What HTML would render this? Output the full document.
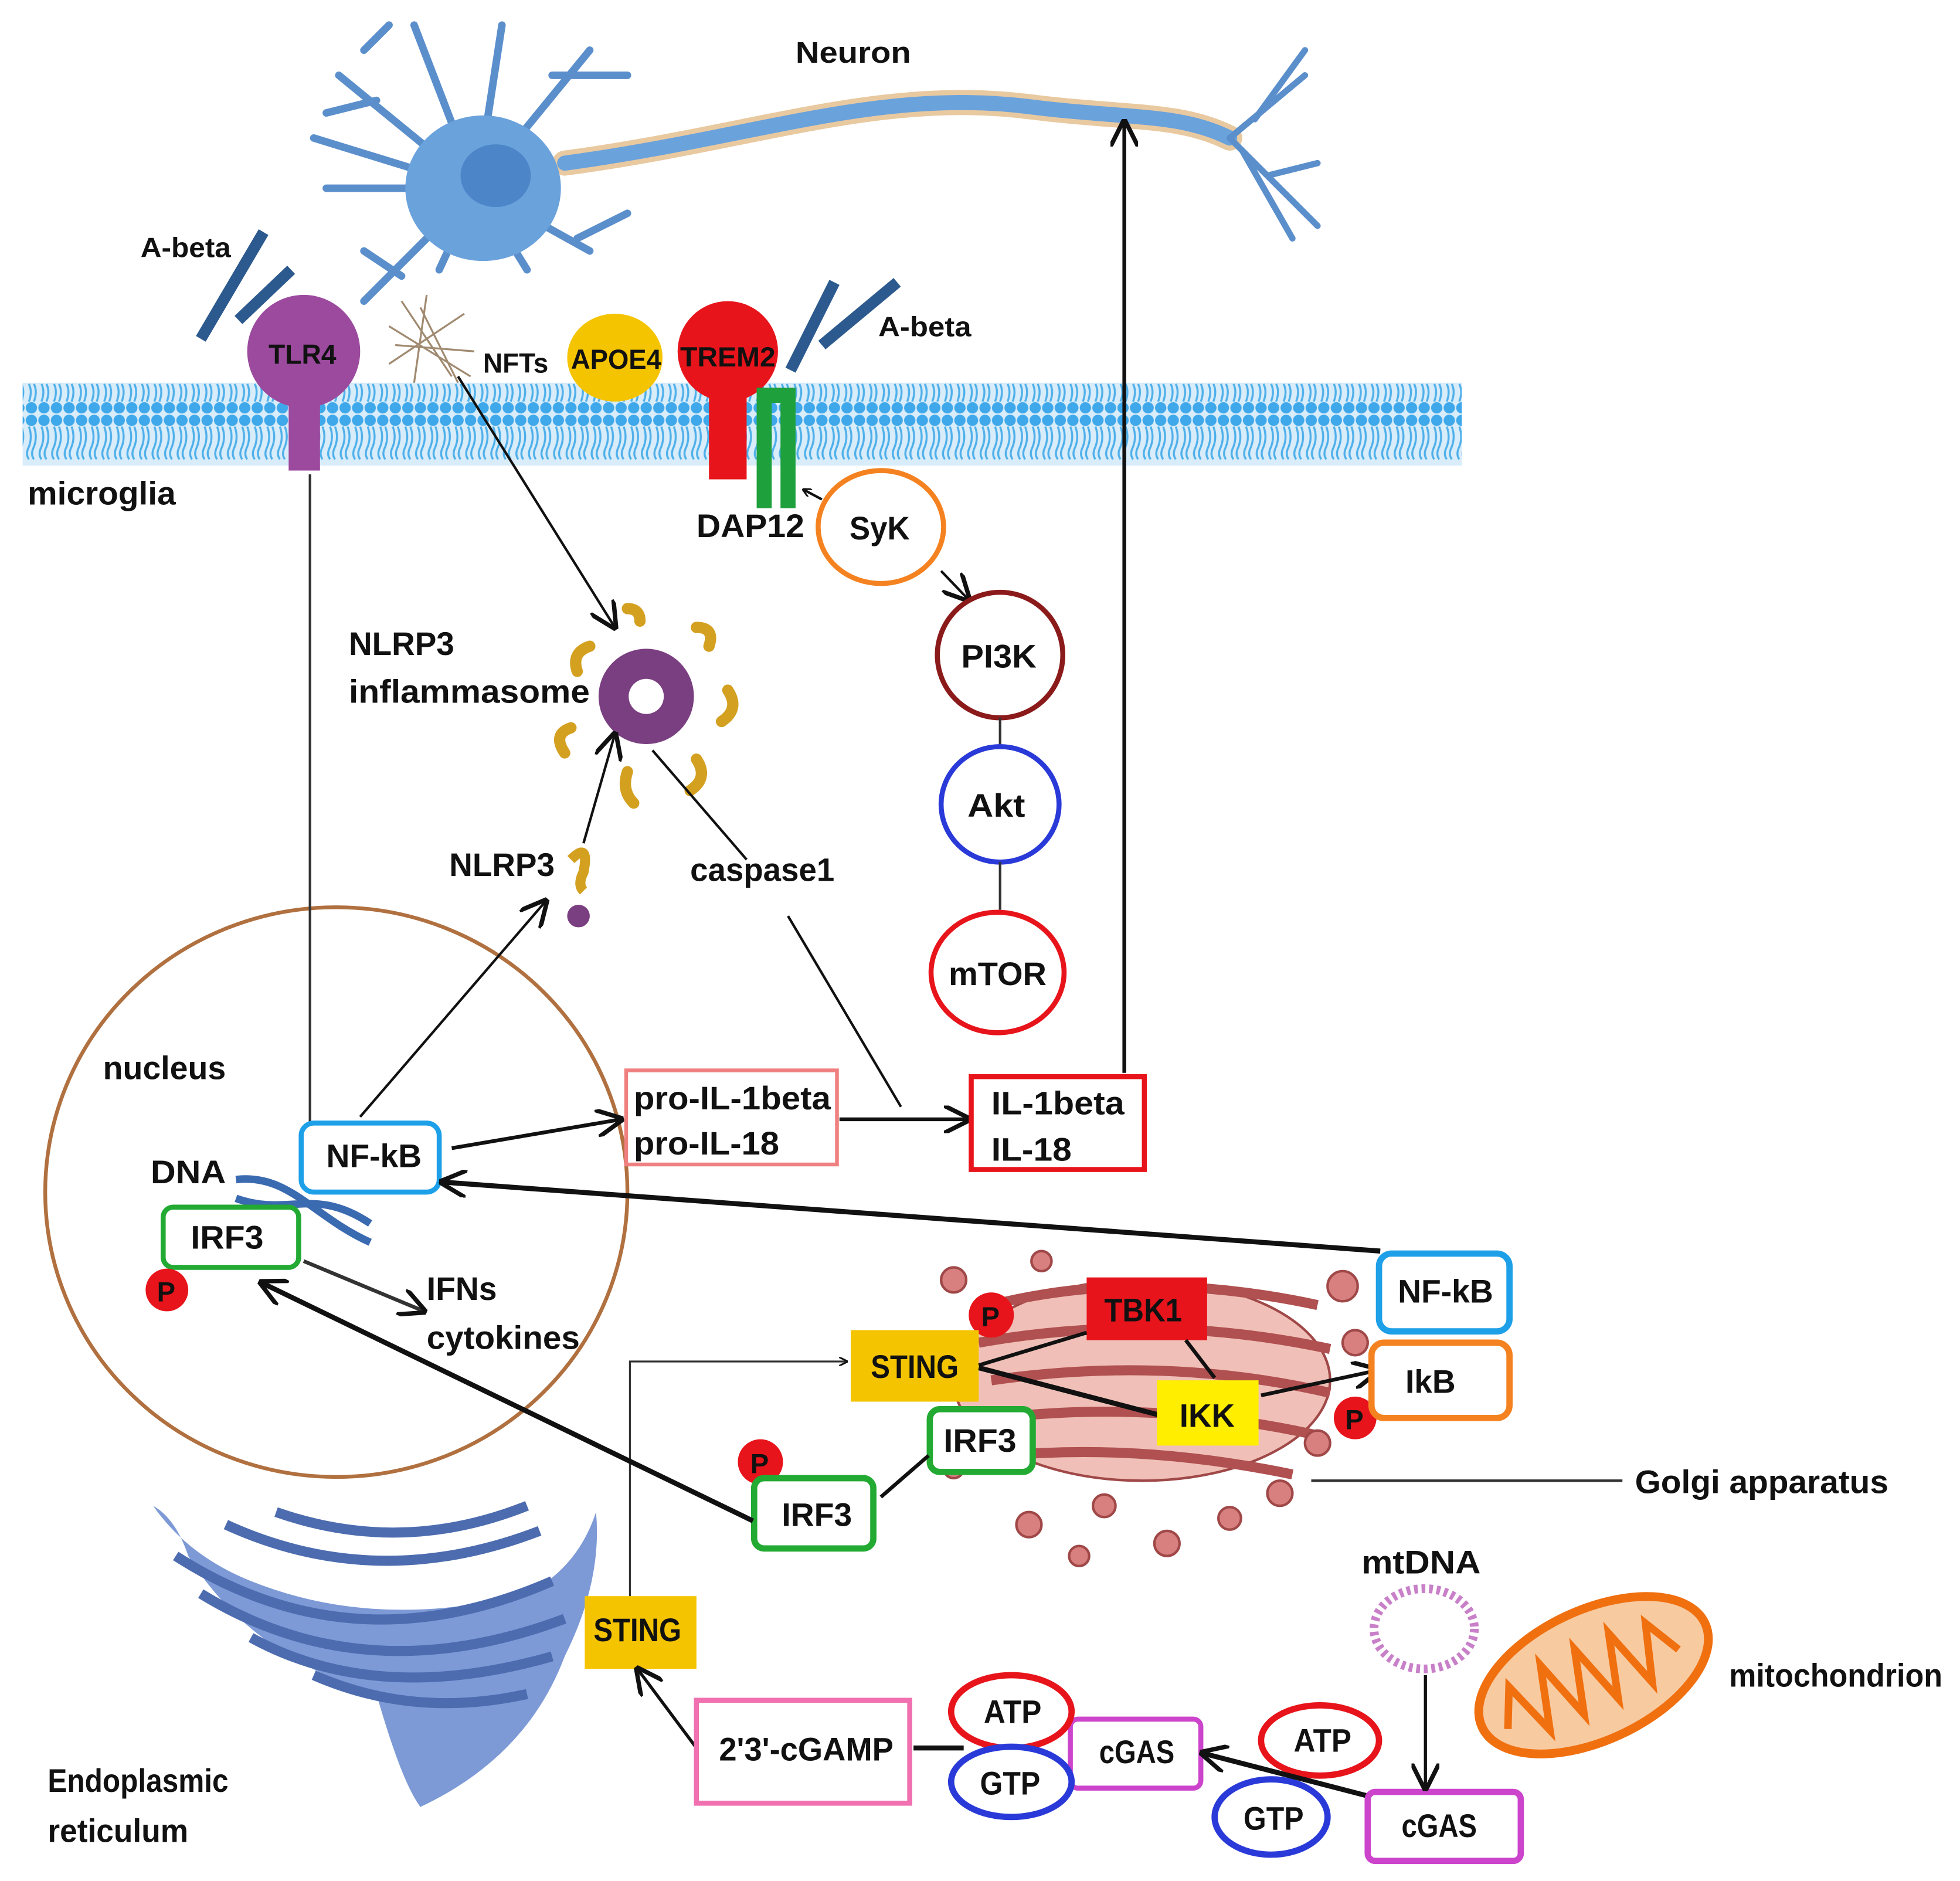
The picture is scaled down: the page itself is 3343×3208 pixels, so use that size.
<!DOCTYPE html>
<html><head><meta charset="utf-8"><style>
html,body{margin:0;padding:0;background:#fff;}
svg{display:block}
text{font-family:"Liberation Sans Narrow","Liberation Sans",sans-serif;font-weight:bold;fill:#111;}
</style></head><body>
<svg width="3343" height="3208" viewBox="0 0 1562 1499" xmlns="http://www.w3.org/2000/svg">
<defs>
<marker id="ah" viewBox="0 0 10 10" refX="9" refY="5" markerWidth="7" markerHeight="7" orient="auto" markerUnits="userSpaceOnUse"><path d="M0,0 L10,5 L0,10" fill="none" stroke="#111" stroke-width="2"/></marker>
<marker id="ahb" viewBox="0 0 10 10" refX="9" refY="5" markerWidth="22" markerHeight="22" orient="auto" markerUnits="userSpaceOnUse"><path d="M0,0 L10,5 L0,10" fill="none" stroke="#111" stroke-width="1.6"/></marker>
<pattern id="mem" width="10" height="66" patternUnits="userSpaceOnUse">
<rect width="10" height="66" fill="#d8ecfa"/>
<circle cx="5" cy="5" r="4.5" fill="#3fa8ea"/><circle cx="5" cy="61" r="4.5" fill="#3fa8ea"/>
<path d="M3,10 q3,8 0,16 q-3,6 0,10 M7,10 q3,8 0,16 q-3,6 0,10 M3,56 q3,-8 0,-14 M7,56 q3,-8 0,-14" stroke="#4fb0ea" stroke-width="1.6" fill="none"/>
</pattern>
</defs>

<!-- Neuron -->
<g stroke="#5b8fcc" fill="none" stroke-linecap="round">
<path d="M450,130 C600,110 700,70 820,85 C900,95 940,90 980,110" stroke="#e8c9a0" stroke-width="20"/>
<path d="M450,130 C600,110 700,70 820,85 C900,95 940,90 980,110" stroke="#6aa2dc" stroke-width="12"/>
<path d="M980,110 L1040,60 M980,110 L1050,180 M1000,95 L1040,40 M1010,140 L1050,130 M990,120 L1030,190" stroke-width="5"/>
<path d="M380,150 L270,60 M380,150 L260,150 M380,150 L290,240 M380,150 L350,215 M380,150 L420,215 M380,150 L470,200 M380,150 L470,40 M380,150 L400,20 M380,150 L330,20 M380,150 L250,110 M300,80 L260,90 M320,220 L290,200 M440,60 L500,60 M460,190 L500,170 M290,40 L310,20" stroke-width="6"/>
</g>
<ellipse cx="385" cy="150" rx="62" ry="58" fill="#6aa2dc"/>
<ellipse cx="395" cy="140" rx="28" ry="25" fill="#4d86c8"/>
<text x="634" y="50" font-size="24" textLength="92" lengthAdjust="spacingAndGlyphs">Neuron</text>

<rect x="18" y="305" width="1147" height="66" fill="url(#mem)"/>

<path d="M210,185 L160,270 M232,215 L190,255" stroke="#2d5a8e" stroke-width="9"/>
<text x="112" y="205" font-size="22" textLength="72" lengthAdjust="spacingAndGlyphs">A-beta</text>
<rect x="230" y="300" width="25" height="75" fill="#9b4a9e"/>
<circle cx="242" cy="280" r="45" fill="#9b4a9e"/>
<text x="214" y="290" font-size="22" textLength="54" lengthAdjust="spacingAndGlyphs">TLR4</text>
<g stroke="#a08a70" stroke-width="1.5" fill="none"><path d="M310,260 L375,300 M320,240 L360,300 M340,235 L330,305 M310,290 L370,250 M315,275 L378,280 M335,245 L365,305"/></g>
<text x="385" y="297" font-size="22" textLength="52" lengthAdjust="spacingAndGlyphs">NFTs</text>
<ellipse cx="490" cy="285" rx="38" ry="35" fill="#f5c400"/>
<text x="455" y="294" font-size="22" textLength="72" lengthAdjust="spacingAndGlyphs">APOE4</text>
<rect x="565" y="300" width="30" height="82" fill="#e8141b"/>
<circle cx="580" cy="280" r="40" fill="#e8141b"/>
<text x="542" y="292" font-size="22" textLength="76" lengthAdjust="spacingAndGlyphs">TREM2</text>
<path d="M609,405 V315 H628 V405" stroke="#1ea03c" stroke-width="12" fill="none"/>
<path d="M665,225 L630,295 M715,225 L655,275" stroke="#2d5a8e" stroke-width="9"/>
<text x="700" y="268" font-size="22" textLength="74" lengthAdjust="spacingAndGlyphs">A-beta</text>
<text x="22" y="402" font-size="26" textLength="118" lengthAdjust="spacingAndGlyphs">microglia</text>

<text x="555" y="428" font-size="26" textLength="86" lengthAdjust="spacingAndGlyphs">DAP12</text>
<ellipse cx="702" cy="420" rx="50" ry="45" fill="none" stroke="#f58220" stroke-width="4"/>
<text x="677" y="430" font-size="26" textLength="48" lengthAdjust="spacingAndGlyphs">SyK</text>
<line x1="655" y1="398" x2="640" y2="390" stroke="#111" stroke-width="2" marker-end="url(#ah)"/>
<line x1="750" y1="455" x2="772" y2="478" stroke="#111" stroke-width="2" marker-end="url(#ahb)"/>
<circle cx="797" cy="522" r="50" fill="none" stroke="#8b1a1a" stroke-width="4"/>
<text x="766" y="532" font-size="26" textLength="60" lengthAdjust="spacingAndGlyphs">PI3K</text>
<line x1="797" y1="572" x2="797" y2="595" stroke="#333" stroke-width="2"/>
<ellipse cx="797" cy="641" rx="47" ry="46" fill="none" stroke="#2a3ad8" stroke-width="4"/>
<text x="771" y="651" font-size="26" textLength="46" lengthAdjust="spacingAndGlyphs">Akt</text>
<line x1="797" y1="687" x2="797" y2="725" stroke="#333" stroke-width="2"/>
<ellipse cx="795" cy="775" rx="53" ry="48" fill="none" stroke="#e8141b" stroke-width="4"/>
<text x="756" y="785" font-size="26" textLength="78" lengthAdjust="spacingAndGlyphs">mTOR</text>
<line x1="896" y1="855" x2="896" y2="97" stroke="#111" stroke-width="3" marker-end="url(#ahb)"/>

<circle cx="515" cy="555" r="38" fill="#7a3f80"/>
<circle cx="515" cy="555" r="14" fill="#fff"/>
<g stroke="#d4a020" stroke-width="9" fill="none" stroke-linecap="round">
<path d="M470,515 q-15,5 -10,20 M555,500 q15,0 10,15 M580,550 q10,15 -5,25 M555,605 q10,15 -5,25 M500,615 q-5,15 5,25 M455,580 q-15,5 -5,20 M510,495 q0,-10 -10,-10"/>
</g>
<text x="278" y="522" font-size="26" textLength="84" lengthAdjust="spacingAndGlyphs">NLRP3</text>
<text x="278" y="560" font-size="26" textLength="192" lengthAdjust="spacingAndGlyphs">inflammasome</text>
<line x1="365" y1="300" x2="490" y2="500" stroke="#111" stroke-width="2" marker-end="url(#ahb)"/>
<path d="M455,685 q15,-15 10,10 q-5,10 0,15" stroke="#d4a020" stroke-width="8" fill="none"/>
<circle cx="461" cy="730" r="9" fill="#7a3f80"/>
<text x="358" y="698" font-size="26" textLength="84" lengthAdjust="spacingAndGlyphs">NLRP3</text>
<line x1="465" y1="672" x2="490" y2="585" stroke="#111" stroke-width="2" marker-end="url(#ahb)"/>
<text x="550" y="702" font-size="26" textLength="115" lengthAdjust="spacingAndGlyphs">caspase1</text>
<line x1="520" y1="598" x2="595" y2="685" stroke="#111" stroke-width="2"/>
<line x1="628" y1="730" x2="718" y2="882" stroke="#111" stroke-width="2"/>

<ellipse cx="268" cy="950" rx="232" ry="227" fill="none" stroke="#b0703f" stroke-width="3"/>
<text x="82" y="860" font-size="26" textLength="98" lengthAdjust="spacingAndGlyphs">nucleus</text>
<line x1="247" y1="378" x2="247" y2="895" stroke="#333" stroke-width="2"/>
<rect x="240" y="895" width="110" height="55" rx="10" fill="#fff" stroke="#1da0e8" stroke-width="4"/>
<text x="260" y="930" font-size="26" textLength="76" lengthAdjust="spacingAndGlyphs">NF-kB</text>
<line x1="287" y1="890" x2="435" y2="718" stroke="#111" stroke-width="2" marker-end="url(#ahb)"/>
<line x1="360" y1="915" x2="495" y2="892" stroke="#111" stroke-width="3" marker-end="url(#ahb)"/>
<rect x="499" y="853" width="168" height="75" fill="#fff" stroke="#f08080" stroke-width="3"/>
<text x="505" y="884" font-size="26" textLength="157" lengthAdjust="spacingAndGlyphs">pro-IL-1beta</text>
<text x="505" y="920" font-size="26" textLength="116" lengthAdjust="spacingAndGlyphs">pro-IL-18</text>
<line x1="669" y1="892" x2="772" y2="892" stroke="#111" stroke-width="3" marker-end="url(#ahb)"/>
<rect x="774" y="858" width="138" height="74" fill="#fff" stroke="#e8141b" stroke-width="4"/>
<text x="790" y="888" font-size="26" textLength="106" lengthAdjust="spacingAndGlyphs">IL-1beta</text>
<text x="790" y="925" font-size="26" textLength="64" lengthAdjust="spacingAndGlyphs">IL-18</text>
<text x="120" y="943" font-size="26" textLength="60" lengthAdjust="spacingAndGlyphs">DNA</text>
<path d="M188,940 C230,935 250,970 295,990 M188,955 C230,970 250,945 295,975" stroke="#3a6ab0" stroke-width="6" fill="none"/>
<rect x="130" y="962" width="108" height="48" rx="8" fill="#fff" stroke="#22aa33" stroke-width="4"/>
<text x="152" y="995" font-size="26" textLength="58" lengthAdjust="spacingAndGlyphs">IRF3</text>
<circle cx="133" cy="1028" r="17" fill="#e8141b"/>
<text x="125" y="1037" font-size="22">P</text>
<line x1="242" y1="1005" x2="338" y2="1045" stroke="#333" stroke-width="3" marker-end="url(#ahb)"/>
<text x="340" y="1036" font-size="26" textLength="56" lengthAdjust="spacingAndGlyphs">IFNs</text>
<text x="340" y="1075" font-size="26" textLength="122" lengthAdjust="spacingAndGlyphs">cytokines</text>
<line x1="1100" y1="997" x2="352" y2="942" stroke="#111" stroke-width="4" marker-end="url(#ahb)"/>

<g fill="#d88080" stroke="#a04848" stroke-width="2">
<ellipse cx="910" cy="1100" rx="150" ry="80" fill="#f0c0b8"/>
<path d="M790,1040 q120,-30 260,0 M780,1070 q140,-25 280,5 M790,1100 q140,-20 270,10 M795,1130 q130,-15 260,15 M800,1160 q110,-10 230,15" fill="none" stroke="#b05050" stroke-width="8"/>
<circle cx="760" cy="1020" r="10"/><circle cx="830" cy="1005" r="8"/><circle cx="1070" cy="1025" r="12"/><circle cx="1080" cy="1070" r="10"/>
<circle cx="820" cy="1215" r="10"/><circle cx="880" cy="1200" r="9"/><circle cx="930" cy="1230" r="10"/><circle cx="980" cy="1210" r="9"/><circle cx="1020" cy="1190" r="10"/><circle cx="760" cy="1170" r="8"/><circle cx="860" cy="1240" r="8"/><circle cx="1050" cy="1150" r="10"/>
</g>
<rect x="866" y="1018" width="96" height="50" fill="#e8141b"/>
<text x="880" y="1053" font-size="26" textLength="62" lengthAdjust="spacingAndGlyphs">TBK1</text>
<circle cx="790" cy="1048" r="18" fill="#e8141b"/><text x="782" y="1057" font-size="22">P</text>
<polyline points="502,1272 502,1085 675,1085" fill="none" stroke="#333" stroke-width="1.5" marker-end="url(#ah)"/>
<rect x="678" y="1060" width="102" height="57" fill="#f5c400"/>
<text x="694" y="1098" font-size="26" textLength="70" lengthAdjust="spacingAndGlyphs">STING</text>
<line x1="780" y1="1088" x2="866" y2="1062" stroke="#111" stroke-width="3"/>
<line x1="780" y1="1090" x2="925" y2="1128" stroke="#111" stroke-width="4"/>
<line x1="945" y1="1068" x2="968" y2="1098" stroke="#111" stroke-width="3"/>
<rect x="922" y="1100" width="81" height="52" fill="#ffee00"/>
<text x="940" y="1137" font-size="26" textLength="44" lengthAdjust="spacingAndGlyphs">IKK</text>
<line x1="1005" y1="1112" x2="1098" y2="1092" stroke="#111" stroke-width="3" marker-end="url(#ahb)"/>
<circle cx="1080" cy="1130" r="17" fill="#e8141b"/><text x="1072" y="1139" font-size="22">P</text>
<rect x="1099" y="999" width="104" height="62" rx="10" fill="#fff" stroke="#1da0e8" stroke-width="5"/>
<text x="1114" y="1038" font-size="26" textLength="76" lengthAdjust="spacingAndGlyphs">NF-kB</text>
<rect x="1093" y="1070" width="110" height="60" rx="10" fill="#fff" stroke="#f58220" stroke-width="5"/>
<text x="1120" y="1110" font-size="26" textLength="40" lengthAdjust="spacingAndGlyphs">IkB</text>
<rect x="741" y="1123" width="82" height="50" rx="8" fill="#fff" stroke="#22aa33" stroke-width="5"/>
<text x="752" y="1157" font-size="26" textLength="58" lengthAdjust="spacingAndGlyphs">IRF3</text>
<circle cx="606" cy="1165" r="18" fill="#e8141b"/><text x="598" y="1174" font-size="22">P</text>
<rect x="601" y="1178" width="95" height="56" rx="8" fill="#fff" stroke="#22aa33" stroke-width="5"/>
<text x="623" y="1216" font-size="26" textLength="56" lengthAdjust="spacingAndGlyphs">IRF3</text>
<line x1="702" y1="1193" x2="740" y2="1160" stroke="#111" stroke-width="3"/>
<line x1="600" y1="1212" x2="208" y2="1022" stroke="#111" stroke-width="4" marker-end="url(#ahb)"/>
<line x1="1045" y1="1180" x2="1293" y2="1180" stroke="#333" stroke-width="2"/>
<text x="1303" y="1190" font-size="26" textLength="202" lengthAdjust="spacingAndGlyphs">Golgi apparatus</text>

<!-- ER -->
<path d="M122,1200 Q140,1210 150,1240 Q200,1320 300,1350 Q320,1420 335,1440 Q420,1400 450,1320 Q480,1260 475,1205 Q460,1250 420,1270 Q300,1300 200,1260 Q150,1240 122,1200 Z" fill="#7d9ad6"/>
<g stroke="#4d6cb0" stroke-width="8" fill="none">
<path d="M140,1240 Q280,1330 440,1260 M160,1270 Q290,1350 450,1290 M200,1305 Q300,1360 440,1320 M250,1335 Q330,1370 420,1350 M180,1215 Q300,1270 430,1220 M220,1205 Q320,1240 420,1200"/>
</g>
<rect x="466" y="1272" width="89" height="58" fill="#f5c400"/>
<text x="473" y="1308" font-size="26" textLength="70" lengthAdjust="spacingAndGlyphs">STING</text>
<line x1="555" y1="1393" x2="508" y2="1330" stroke="#111" stroke-width="2.5" marker-end="url(#ahb)"/>
<rect x="555" y="1355" width="170" height="82" fill="#fff" stroke="#f070b0" stroke-width="4"/>
<text x="573" y="1403" font-size="26" textLength="139" lengthAdjust="spacingAndGlyphs">2'3'-cGAMP</text>
<line x1="728" y1="1393" x2="768" y2="1393" stroke="#111" stroke-width="4"/>
<rect x="853" y="1370" width="104" height="55" rx="6" fill="#fff" stroke="#cc44cc" stroke-width="4"/>
<text x="876" y="1405" font-size="26" textLength="60" lengthAdjust="spacingAndGlyphs">cGAS</text>
<ellipse cx="806" cy="1364" rx="48" ry="29" fill="#fff" stroke="#e8141b" stroke-width="5"/>
<text x="784" y="1373" font-size="26" textLength="46" lengthAdjust="spacingAndGlyphs">ATP</text>
<ellipse cx="806" cy="1420" rx="48" ry="28" fill="#fff" stroke="#2a3ad8" stroke-width="5"/>
<text x="781" y="1430" font-size="26" textLength="48" lengthAdjust="spacingAndGlyphs">GTP</text>
<ellipse cx="1052" cy="1387" rx="47" ry="28" fill="#fff" stroke="#e8141b" stroke-width="5"/>
<text x="1031" y="1396" font-size="26" textLength="46" lengthAdjust="spacingAndGlyphs">ATP</text>
<ellipse cx="1013" cy="1448" rx="45" ry="30" fill="#fff" stroke="#2a3ad8" stroke-width="5"/>
<text x="991" y="1458" font-size="26" textLength="48" lengthAdjust="spacingAndGlyphs">GTP</text>
<line x1="1093" y1="1432" x2="958" y2="1397" stroke="#111" stroke-width="4" marker-end="url(#ahb)"/>
<rect x="1090" y="1428" width="122" height="55" rx="6" fill="#fff" stroke="#cc44cc" stroke-width="5"/>
<text x="1117" y="1464" font-size="26" textLength="60" lengthAdjust="spacingAndGlyphs">cGAS</text>
<text x="1085" y="1254" font-size="26" textLength="95" lengthAdjust="spacingAndGlyphs">mtDNA</text>
<ellipse cx="1135" cy="1298" rx="40" ry="32" fill="none" stroke="#c880c8" stroke-width="7" stroke-dasharray="3,3"/>
<line x1="1136" y1="1335" x2="1136" y2="1425" stroke="#111" stroke-width="2.5" marker-end="url(#ahb)"/>
<g transform="rotate(-25 1270 1335)">
<ellipse cx="1270" cy="1335" rx="98" ry="52" fill="#f8caa0" stroke="#f07010" stroke-width="7"/>
<path d="M1190,1345 l15,-30 l15,45 l15,-50 l15,50 l15,-50 l15,50 l15,-50 l15,50 l15,-45 l15,30" fill="none" stroke="#f07010" stroke-width="6"/>
</g>
<text x="1378" y="1344" font-size="26" textLength="170" lengthAdjust="spacingAndGlyphs">mitochondrion</text>
<text x="38" y="1428" font-size="26" textLength="144" lengthAdjust="spacingAndGlyphs">Endoplasmic</text>
<text x="38" y="1468" font-size="26" textLength="112" lengthAdjust="spacingAndGlyphs">reticulum</text>
</svg>
</body></html>
